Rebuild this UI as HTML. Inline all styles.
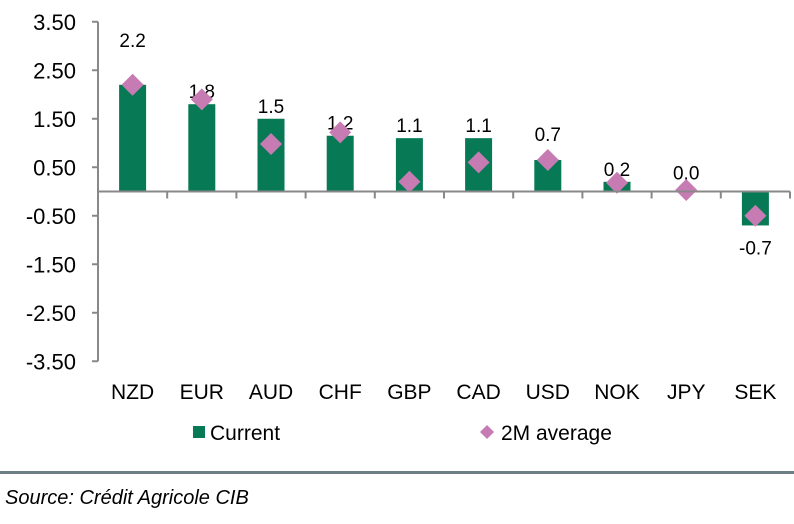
<!DOCTYPE html>
<html><head><meta charset="utf-8"><style>
body{margin:0;background:#fff;width:794px;height:519px;overflow:hidden;font-family:"Liberation Sans",Arial,sans-serif}
svg text{font-family:"Liberation Sans",Arial,sans-serif}
</style></head><body>
<svg id="chart" width="794" height="519">
<g id="yaxis"></g>
<g id="bars"></g>
<g id="marks"></g>
<g id="xaxis"></g>
<g>
<rect x="193" y="426" width="12" height="12" fill="#077a55"/>
<text x="210" y="440" font-size="21">Current</text>
<path d="M487,425 L494,432 L487,439 L480,432 Z" fill="#c77bb3"/>
<text x="501" y="440" font-size="21">2M average</text>
</g>
<rect x="0" y="471" width="794" height="3" fill="#6d7f86"/>
<text x="5" y="504" font-size="20" font-style="italic">Source: Crédit Agricole CIB</text>
</svg>
<script>
const categories=["NZD","EUR","AUD","CHF","GBP","CAD","USD","NOK","JPY","SEK"];
const current=[2.2,1.8,1.5,1.15,1.1,1.1,0.65,0.2,0.0,-0.7];
const currentLabels=["2.2","1.8","1.5","1.2","1.1","1.1","0.7","0.2","0.0","-0.7"];
const average=[2.2,1.9,0.98,1.22,0.2,0.6,0.65,0.18,0.03,-0.5];
const yTicks=[3.5,2.5,1.5,0.5,-0.5,-1.5,-2.5,-3.5];
const NS="http://www.w3.org/2000/svg";
const x0=98,x1=790,yZero=191.5,unit=48.5;
const cw=(x1-x0)/categories.length;
const y=v=>yZero-v*unit;
const xc=i=>x0+cw*(i+0.5);
function mk(tag,attrs,parent,text){const e=document.createElementNS(NS,tag);for(const k in attrs)e.setAttribute(k,attrs[k]);if(text!==undefined)e.textContent=text;document.getElementById(parent).appendChild(e);return e;}
let ax=mk('line',{x1:x0,y1:y(3.5),x2:x0,y2:y(-3.5),stroke:'#888','stroke-width':2},'yaxis');


yTicks.forEach(t=>{
 let l=mk('line',{x1:x0-6,y1:y(t),x2:x0,y2:y(t),stroke:'#888','stroke-width':2},'yaxis');
 
 
 let tx=mk('text',{x:76,y:y(t)+8,'font-size':22,'text-anchor':'end'},'yaxis',t.toFixed(2));
 
 
});
categories.forEach((c,i)=>{
 const v=current[i],bw=27;
 let r=mk('rect',{x:xc(i)-bw/2,y:Math.min(y(v),yZero),width:bw,height:Math.abs(y(v)-yZero),fill:'#077a55'},'bars');
 
 
 let ly;
 if(v<0) ly=y(v)+29;
 else {
  ly=y(v)-6;
  const d=average[i]-v;
  if(Math.abs(d)<0.02 && v>0.5) ly-=(v>2?32:13);
  if(v===0) ly-=6;
 }
 let t=mk('text',{x:xc(i),y:ly,'font-size':19,'text-anchor':'middle'},'bars',currentLabels[i]);
 
 
});
average.forEach((v,i)=>{
 const cx=xc(i),cy=y(v),s=11;
 let p=mk('path',{d:`M${cx},${cy-s} L${cx+s},${cy} L${cx},${cy+s} L${cx-s},${cy} Z`,fill:'#c77bb3'},'marks');
 
 
});
let xl=mk('line',{x1:x0,y1:yZero,x2:x1,y2:yZero,stroke:'#888','stroke-width':2},'xaxis');


for(let i=1;i<=categories.length;i++){
 let l=mk('line',{x1:x0+cw*i,y1:yZero,x2:x0+cw*i,y2:yZero+7,stroke:'#888','stroke-width':2},'xaxis');
 
 
}
categories.forEach((c,i)=>{
 let t=mk('text',{x:xc(i),y:399,'font-size':21,'text-anchor':'middle'},'xaxis',c);
 
 
});
</script>
</body></html>
